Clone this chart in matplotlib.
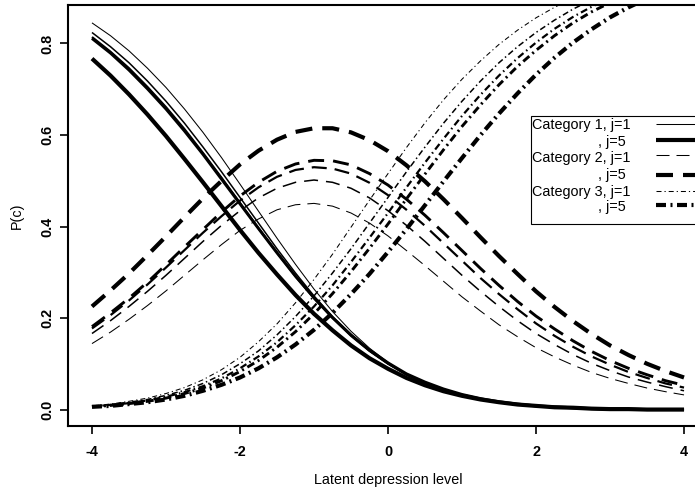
import matplotlib
matplotlib.use("Agg")
import matplotlib.pyplot as plt
from matplotlib.patches import Rectangle

plt.rcParams['font.family'] = ['Liberation Sans', 'DejaVu Sans']
plt.rcParams['lines.scale_dashes'] = False

# latent depression level grid (every 0.25)
theta = [-4.0, -3.75, -3.5, -3.25, -3.0, -2.75, -2.5, -2.25, -2.0, -1.75, -1.5,
         -1.25, -1.0, -0.75, -0.5, -0.25, 0.0, 0.25, 0.5, 0.75, 1.0,
         1.25, 1.5, 1.75, 2.0, 2.25, 2.5, 2.75, 3.0, 3.25, 3.5, 3.75, 4.0]

# P(c), one list per j (j=1..5)
cat1 = [
    [0.845, 0.817, 0.784, 0.746, 0.704, 0.657, 0.606, 0.551, 0.493, 0.434, 0.375, 0.318, 0.264, 0.215, 0.172, 0.135, 0.104,
     0.078, 0.058, 0.043, 0.031, 0.023, 0.016, 0.011, 0.008, 0.006, 0.004, 0.003, 0.002, 0.001, 0.001, 0.001, 0.000],
    [0.824, 0.793, 0.758, 0.718, 0.674, 0.626, 0.574, 0.520, 0.464, 0.408, 0.352, 0.299, 0.249, 0.204, 0.164, 0.129, 0.101,
     0.077, 0.058, 0.043, 0.032, 0.023, 0.017, 0.012, 0.008, 0.006, 0.004, 0.003, 0.002, 0.001, 0.001, 0.001, 0.001],
    [0.814, 0.782, 0.746, 0.705, 0.661, 0.613, 0.561, 0.507, 0.452, 0.397, 0.344, 0.292, 0.244, 0.201, 0.162, 0.129, 0.101,
     0.077, 0.059, 0.044, 0.033, 0.024, 0.017, 0.012, 0.009, 0.006, 0.004, 0.003, 0.002, 0.002, 0.001, 0.001, 0.001],
    [0.811, 0.779, 0.742, 0.701, 0.657, 0.609, 0.558, 0.504, 0.450, 0.396, 0.343, 0.292, 0.245, 0.202, 0.164, 0.131, 0.103,
     0.079, 0.061, 0.046, 0.034, 0.025, 0.018, 0.013, 0.009, 0.007, 0.005, 0.003, 0.002, 0.002, 0.001, 0.001, 0.001],
    [0.767, 0.730, 0.689, 0.645, 0.598, 0.548, 0.497, 0.445, 0.393, 0.343, 0.296, 0.251, 0.210, 0.174, 0.141, 0.113, 0.090,
     0.070, 0.054, 0.041, 0.031, 0.023, 0.017, 0.012, 0.009, 0.006, 0.005, 0.003, 0.002, 0.002, 0.001, 0.001, 0.001],
]
cat2 = [
    [0.145, 0.170, 0.198, 0.228, 0.260, 0.294, 0.328, 0.361, 0.392, 0.417, 0.437, 0.448, 0.451, 0.445, 0.430, 0.408, 0.380,
     0.348, 0.315, 0.281, 0.247, 0.216, 0.186, 0.160, 0.136, 0.116, 0.098, 0.082, 0.069, 0.058, 0.048, 0.040, 0.033],
    [0.167, 0.195, 0.226, 0.259, 0.294, 0.331, 0.368, 0.403, 0.435, 0.463, 0.484, 0.497, 0.502, 0.497, 0.484, 0.463, 0.435,
     0.403, 0.368, 0.331, 0.294, 0.259, 0.226, 0.195, 0.167, 0.143, 0.121, 0.102, 0.086, 0.072, 0.061, 0.051, 0.042],
    [0.178, 0.207, 0.239, 0.274, 0.311, 0.349, 0.387, 0.423, 0.457, 0.486, 0.509, 0.524, 0.530, 0.527, 0.516, 0.496, 0.469,
     0.437, 0.402, 0.364, 0.326, 0.288, 0.253, 0.220, 0.189, 0.162, 0.138, 0.117, 0.099, 0.083, 0.070, 0.058, 0.049],
    [0.182, 0.212, 0.244, 0.279, 0.317, 0.356, 0.394, 0.432, 0.467, 0.497, 0.521, 0.537, 0.545, 0.544, 0.535, 0.516, 0.491,
     0.460, 0.425, 0.387, 0.348, 0.309, 0.272, 0.237, 0.205, 0.177, 0.151, 0.128, 0.108, 0.091, 0.077, 0.064, 0.054],
    [0.226, 0.261, 0.298, 0.338, 0.379, 0.421, 0.462, 0.500, 0.536, 0.566, 0.590, 0.607, 0.615, 0.615, 0.606, 0.589, 0.565,
     0.534, 0.499, 0.460, 0.419, 0.377, 0.336, 0.297, 0.259, 0.225, 0.194, 0.166, 0.141, 0.120, 0.101, 0.085, 0.071],
]
cat3 = [
    [0.009, 0.013, 0.019, 0.026, 0.036, 0.049, 0.066, 0.088, 0.115, 0.149, 0.188, 0.234, 0.285, 0.340, 0.399, 0.458, 0.516,
     0.573, 0.627, 0.677, 0.722, 0.762, 0.798, 0.829, 0.856, 0.879, 0.899, 0.915, 0.929, 0.941, 0.951, 0.959, 0.966],
    [0.008, 0.012, 0.017, 0.023, 0.032, 0.043, 0.058, 0.077, 0.101, 0.129, 0.164, 0.204, 0.249, 0.299, 0.352, 0.408, 0.464,
     0.520, 0.574, 0.626, 0.674, 0.718, 0.758, 0.793, 0.824, 0.851, 0.875, 0.895, 0.912, 0.926, 0.939, 0.949, 0.957],
    [0.008, 0.011, 0.015, 0.021, 0.029, 0.039, 0.052, 0.069, 0.091, 0.117, 0.148, 0.185, 0.226, 0.272, 0.323, 0.376, 0.430,
     0.486, 0.540, 0.592, 0.642, 0.688, 0.730, 0.768, 0.802, 0.832, 0.858, 0.880, 0.899, 0.916, 0.929, 0.941, 0.951],
    [0.007, 0.010, 0.014, 0.019, 0.026, 0.036, 0.048, 0.064, 0.084, 0.108, 0.137, 0.171, 0.210, 0.254, 0.302, 0.353, 0.406,
     0.461, 0.515, 0.568, 0.619, 0.666, 0.710, 0.750, 0.785, 0.817, 0.845, 0.869, 0.889, 0.907, 0.922, 0.935, 0.946],
    [0.007, 0.009, 0.013, 0.017, 0.023, 0.031, 0.042, 0.055, 0.071, 0.091, 0.115, 0.143, 0.175, 0.212, 0.253, 0.297, 0.345,
     0.395, 0.447, 0.499, 0.550, 0.600, 0.647, 0.691, 0.732, 0.769, 0.802, 0.831, 0.857, 0.879, 0.898, 0.914, 0.928],
]

x_ticks = [-4, -2, 0, 2, 4]
y_ticks = [0.0, 0.2, 0.4, 0.6, 0.8]
legend_rows = ['Category 1, j=1', ', j=5', 'Category 2, j=1', ', j=5', 'Category 3, j=1', ', j=5']

PX = 72.0 / 100  # points per pixel at dpi 100

widths = [0.75, 1.1, 1.6, 2.1, 3.0]
dash_on = [13, 14, 15, 16, 17]
dash_off = [7, 8, 8, 9, 10]
dd_dash = [5, 6, 7, 8, 10]
dd_gap = [3, 3, 3.5, 4, 4.5]
dd_dot = [1.2, 1.5, 1.5, 2, 2]


def dashed(j):
    return (0, (dash_on[j] * PX, dash_off[j] * PX))


def dotdash(j):
    return (0, (dd_dash[j] * PX, dd_gap[j] * PX, dd_dot[j] * PX, dd_gap[j] * PX))


#_____________________________________________________________________________
fig = plt.figure(figsize=(6.95, 4.92), dpi=100)
ax = fig.add_axes([68.3 / 695, (492 - 425.6) / 492, 639.4 / 695, 420.6 / 492])

for j in range(5):
    ax.plot(theta, cat1[j], color='black', lw=widths[j], solid_capstyle='butt')
    ax.plot(theta, cat2[j], color='black', lw=widths[j], linestyle=dashed(j), dash_capstyle='butt')
    ax.plot(theta, cat3[j], color='black', lw=widths[j], linestyle=dotdash(j), dash_capstyle='butt')

ax.set_xlim(-4.32, 4.32)
ax.set_ylim(-0.034, 0.884)
ax.set_xticks(x_ticks)
ax.set_xticklabels([str(t) for t in x_ticks], fontsize=10.4, fontweight='bold')
ax.set_yticks(y_ticks)
ax.set_yticklabels(['%.1f' % t for t in y_ticks], fontsize=10.4, fontweight='bold',
                   rotation=90, va='center')
ax.tick_params(axis='x', direction='out', length=6, width=1.2, pad=8)
ax.tick_params(axis='y', direction='out', length=6, width=1.2, pad=4)
for s in ax.spines.values():
    s.set_linewidth(1.5)


# pixel -> axes fraction helpers for layout
def fx(px):
    return (px - 68.3) / 639.4


def fy(py):
    return (425.6 - py) / 420.6


ax.set_xlabel('Latent depression level', fontsize=10.4, va='center')
ax.set_ylabel('P(c)', fontsize=10.4, va='center')
ax.xaxis.set_label_coords(0.5, fy(480))
ax.yaxis.set_label_coords(fx(16.7), 0.5)

# legend drawn by hand, R style (text left, line samples right)
ax.add_patch(Rectangle((fx(530.5), fy(224)), 0.4, fy(115.7) - fy(224), transform=ax.transAxes,
                       facecolor='white', edgecolor='black', lw=0.8, clip_on=False, zorder=5))
text_y = [125, 141.7, 158.3, 175, 191.7, 207.5]
line_y = [123.5, 139.5, 155, 175, 191, 205]
for i, lab in enumerate(legend_rows):
    tx = fx(531.7) if lab.startswith('Category') else fx(597.7)
    ax.text(tx, fy(text_y[i]), lab, transform=ax.transAxes, fontsize=10.4,
            va='center', ha='left', zorder=6)
    j = 0 if i % 2 == 0 else 4
    style = ['-', dashed(j), dotdash(j)][i // 2]
    ax.plot([fx(656), fx(740)], [fy(line_y[i])] * 2, transform=ax.transAxes, color='black',
            lw=widths[j], linestyle=style, dash_capstyle='butt', solid_capstyle='butt',
            clip_on=False, zorder=6)

fig.savefig('out.png', dpi=100)
